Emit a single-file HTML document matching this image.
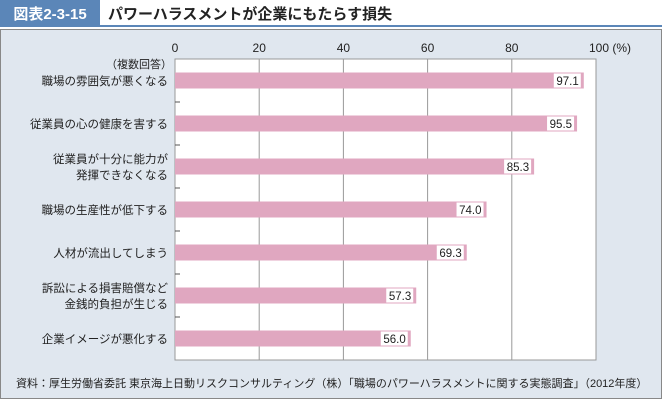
<!DOCTYPE html>
<html><head><meta charset="utf-8"><style>
body{margin:0;width:662px;height:401px;overflow:hidden;background:#fff;font-family:"Liberation Sans","Noto Sans CJK JP",sans-serif}
</style></head><body>
<svg width="662" height="401" xmlns="http://www.w3.org/2000/svg">
<rect x="0" y="0" width="100" height="26" fill="#5b86b8"/>
<text x="50" y="19" fill="#fff" font-size="15" font-weight="bold" text-anchor="middle">図表2-3-15</text>
<text x="108" y="19" fill="#222" font-size="15" font-weight="bold">パワーハラスメントが企業にもたらす損失</text>
<rect x="0" y="25" width="662" height="2" fill="#5b86b8"/>
<rect x="0.5" y="29.5" width="661" height="369" fill="#e0e7ef" stroke="#888"/>
<rect x="175" y="59" width="421" height="301" fill="#fff" stroke="#999"/>
<g id="grid"></g><g id="bars"></g>
<text x="172" y="68" font-size="11" fill="#222" text-anchor="end">（複数回答）</text>
<text x="16" y="387" font-size="11" fill="#222">資料：厚生労働省委託 東京海上日動リスクコンサルティング（株）「職場のパワーハラスメントに関する実態調査」（2012年度）</text>
</svg>
<script>
const categories=[["職場の雰囲気が悪くなる"],["従業員の心の健康を害する"],["従業員が十分に能力が","発揮できなくなる"],["職場の生産性が低下する"],["人材が流出してしまう"],["訴訟による損害賠償など","金銭的負担が生じる"],["企業イメージが悪化する"]];
const values=[97.1,95.5,85.3,74.0,69.3,57.3,56.0];
const ticks=[0,20,40,60,80,100];
const NS="http://www.w3.org/2000/svg";
const x=v=>175+v*4.21, y0=59, step=43;
function mk(t,a,p){const e=document.createElementNS(NS,t);for(const k in a)e.setAttribute(k,a[k]);p.appendChild(e);return e;}
const g=document.getElementById('grid'),b=document.getElementById('bars');
ticks.forEach(t=>{
 if(t>0&&t<100){const l=mk('line',{x1:x(t),x2:x(t),y1:59,y2:360,stroke:'#999'},g);
 
 }
 const tx=mk('text',{x:x(t),y:52,'font-size':12,fill:'#222','text-anchor':'middle'},g);tx.textContent=t===100?'100 (%)':t;
 if(t===100)tx.setAttribute('x',x(t)+14);
 
 
});
for(let i=1;i<categories.length;i++){mk('line',{x1:175,x2:180,y1:y0+step*i,y2:y0+step*i,stroke:'#555'},g);}
categories.forEach((c,i)=>{
 const cy=y0+step*(i+0.5);
 const r=mk('rect',{x:175,y:cy-8,width:x(values[i])-175,height:16,fill:'#e0a7c0'},b);
 
 
 mk('rect',{x:x(values[i])-30,y:cy-7,width:27,height:14,fill:'#fff'},b);
 const vt=mk('text',{x:x(values[i])-5,y:cy+4.5,'font-size':11.5,fill:'#222','text-anchor':'end'},b);vt.textContent=values[i].toFixed(1);
 
 
 c.forEach((s,j)=>{const t=mk('text',{x:168,y:cy+4.5+(j-(c.length-1)/2)*16,'font-size':11.5,fill:'#222','text-anchor':'end'},b);t.textContent=s;
 
 });
});
</script>
</body></html>
